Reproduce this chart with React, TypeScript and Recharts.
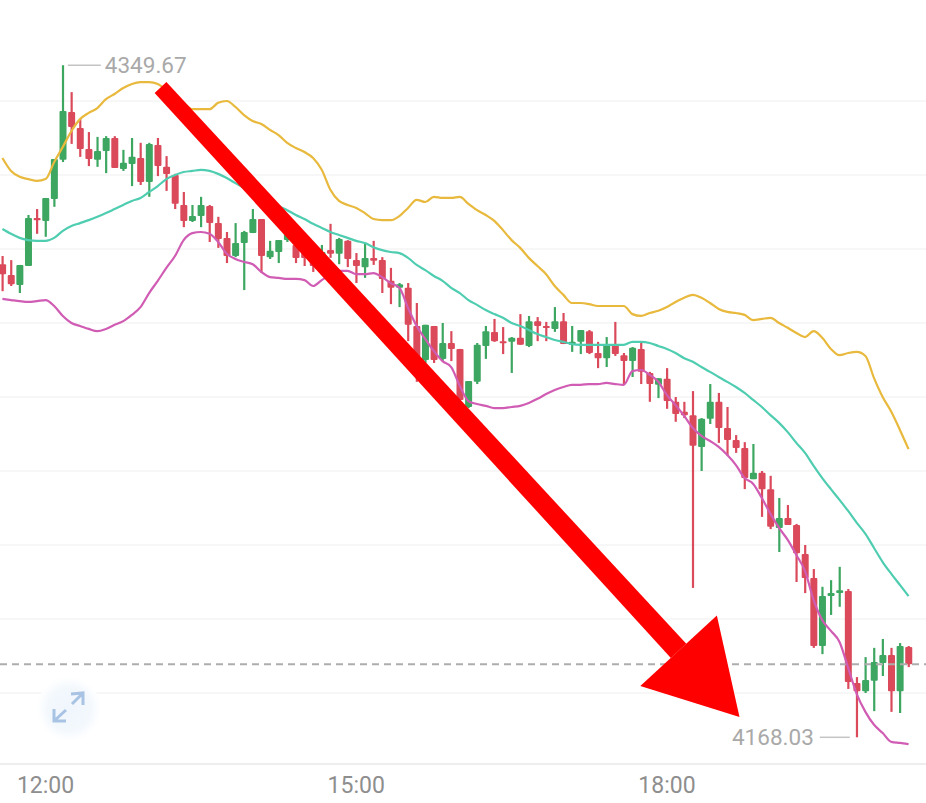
import { Bar, CartesianGrid, ComposedChart, Line, ReferenceDot, ReferenceLine, XAxis, YAxis } from "recharts";

const opens = [
  4295.9, 4293.0, 4290.3, 4295.4, 4308.4, 4307.6, 4313.5, 4324.1, 4337.0, 4332.7,
  4327.0, 4324.1, 4326.5, 4330.0, 4321.6, 4323.0, 4324.6, 4318.1, 4328.1, 4322.2,
  4320.0, 4311.9, 4307.6, 4308.9, 4311.6, 4307.0, 4303.0, 4298.1, 4301.6, 4304.3,
  4308.1, 4297.8, 4299.2, 4302.4, 4301.1, 4299.7, 4298.4, 4296.5, 4299.7, 4298.7,
  4302.2, 4297.0, 4295.1, 4297.6, 4297.0, 4291.4, 4289.5, 4289.5, 4279.2, 4270.0,
  4279.2, 4270.3, 4274.6, 4273.0, 4257.3, 4264.1, 4273.8, 4277.6, 4275.1, 4274.9,
  4276.0, 4273.8, 4280.5, 4279.2, 4278.4, 4280.5, 4274.1, 4274.9, 4277.8, 4271.9,
  4270.5, 4274.1, 4271.3, 4269.7, 4273.0, 4266.5, 4263.3, 4264.9, 4258.7, 4256.0,
  4255.1, 4246.5, 4254.1, 4258.7, 4251.6, 4248.4, 4246.2, 4237.8, 4239.5, 4235.1,
  4224.6, 4227.3, 4225.4, 4217.6, 4211.1, 4192.7, 4206.2, 4207.0, 4207.6, 4182.7,
  4180.5, 4183.3, 4188.1, 4190.3, 4180.5, 4192.4,
];
const closes = [
  4293.2, 4290.5, 4295.7, 4308.4, 4307.8, 4313.8, 4324.3, 4337.3, 4333.0, 4327.0,
  4324.3, 4326.5, 4330.0, 4321.9, 4323.3, 4324.9, 4318.1, 4328.4, 4322.4, 4320.3,
  4312.2, 4307.6, 4308.9, 4311.9, 4307.0, 4302.7, 4298.1, 4301.6, 4304.6, 4308.1,
  4298.1, 4299.5, 4302.4, 4304.3, 4297.6, 4297.6, 4295.4, 4299.2, 4298.7, 4302.7,
  4297.3, 4295.4, 4297.6, 4296.8, 4291.9, 4289.5, 4290.5, 4279.5, 4270.8, 4279.5,
  4270.0, 4274.6, 4273.0, 4259.2, 4264.3, 4274.1, 4277.8, 4275.1, 4274.9, 4276.0,
  4274.1, 4280.5, 4279.2, 4278.7, 4280.5, 4274.3, 4274.9, 4278.1, 4271.9, 4270.5,
  4274.1, 4271.6, 4269.7, 4273.3, 4266.8, 4263.5, 4265.1, 4258.9, 4255.4, 4255.1,
  4246.8, 4254.1, 4258.7, 4251.6, 4248.4, 4246.2, 4238.1, 4239.5, 4235.1, 4224.9,
  4227.3, 4225.4, 4217.8, 4211.1, 4192.7, 4206.2, 4207.0, 4207.8, 4183.0, 4180.5,
  4183.5, 4188.4, 4190.3, 4180.5, 4192.7, 4187.8,
];
const highs = [
  4298.1, 4297.0, 4295.7, 4309.2, 4310.8, 4313.8, 4324.3, 4349.67, 4342.4, 4335.1,
  4331.6, 4330.3, 4330.5, 4330.5, 4326.8, 4330.0, 4328.7, 4328.7, 4330.0, 4325.1,
  4320.3, 4315.4, 4311.9, 4314.1, 4311.9, 4308.7, 4304.6, 4307.0, 4304.9, 4310.8,
  4308.1, 4302.2, 4302.4, 4305.1, 4302.4, 4301.6, 4300.3, 4301.1, 4306.8, 4303.0,
  4302.4, 4298.9, 4301.4, 4302.2, 4297.8, 4294.9, 4290.8, 4290.8, 4285.4, 4279.5,
  4279.2, 4280.0, 4277.8, 4273.0, 4264.3, 4274.6, 4279.2, 4281.1, 4278.9, 4276.2,
  4282.4, 4281.9, 4281.6, 4280.3, 4284.3, 4282.7, 4279.2, 4278.1, 4278.1, 4274.9,
  4276.2, 4280.3, 4271.9, 4273.5, 4274.9, 4266.8, 4265.1, 4267.8, 4260.0, 4258.7,
  4261.6, 4254.3, 4263.5, 4261.1, 4257.3, 4249.7, 4247.8, 4247.3, 4240.0, 4238.7,
  4232.7, 4230.8, 4225.7, 4220.0, 4213.5, 4208.7, 4210.5, 4214.1, 4208.1, 4184.3,
  4189.7, 4192.2, 4194.6, 4192.2, 4193.5, 4192.7,
];
const lows = [
  4288.6, 4290.0, 4288.1, 4295.4, 4304.1, 4303.3, 4311.4, 4323.5, 4328.4, 4324.9,
  4322.4, 4322.2, 4320.5, 4321.9, 4321.1, 4317.0, 4317.3, 4314.1, 4319.7, 4315.7,
  4310.8, 4305.9, 4307.3, 4305.9, 4301.9, 4300.3, 4296.2, 4297.8, 4288.9, 4304.3,
  4293.5, 4297.3, 4296.2, 4301.9, 4296.2, 4295.4, 4293.8, 4294.9, 4297.6, 4295.9,
  4295.1, 4290.8, 4292.2, 4295.7, 4288.1, 4285.1, 4284.3, 4275.1, 4264.1, 4269.2,
  4269.2, 4269.7, 4269.7, 4258.4, 4257.0, 4263.5, 4270.3, 4274.9, 4271.6, 4266.5,
  4274.1, 4273.5, 4275.1, 4275.1, 4277.6, 4274.3, 4272.2, 4271.6, 4271.6, 4267.8,
  4268.1, 4271.1, 4263.5, 4265.4, 4263.5, 4258.7, 4259.7, 4256.8, 4253.3, 4254.3,
  4208.4, 4240.0, 4252.7, 4247.6, 4244.1, 4244.9, 4235.1, 4237.8, 4227.6, 4224.3,
  4218.1, 4225.4, 4210.0, 4207.0, 4192.2, 4190.5, 4201.1, 4203.3, 4181.1, 4168.03,
  4180.0, 4175.1, 4184.6, 4174.9, 4174.6, 4187.0,
];
const upperBand = [
  4324.6, 4321.1, 4319.5, 4318.9, 4318.4, 4318.9, 4323.5, 4327.6, 4331.9, 4335.1,
  4336.8, 4338.1, 4340.5, 4341.9, 4343.5, 4344.6, 4345.1, 4345.1, 4344.6, 4343.0,
  4341.1, 4339.5, 4337.8, 4337.8, 4337.8, 4339.5, 4340.0, 4338.4, 4336.2, 4334.6,
  4333.8, 4332.2, 4330.8, 4328.7, 4327.3, 4326.2, 4324.6, 4321.4, 4316.0, 4313.0,
  4311.9, 4311.1, 4309.7, 4308.1, 4307.8, 4307.8, 4308.9, 4311.1, 4313.3, 4312.7,
  4314.1, 4313.8, 4313.8, 4314.1, 4312.2, 4310.5, 4309.2, 4307.6, 4305.1, 4302.4,
  4300.3, 4297.6, 4295.4, 4293.2, 4290.0, 4287.6, 4285.4, 4285.4, 4285.1, 4284.6,
  4284.6, 4284.6, 4284.6, 4282.4, 4281.9, 4282.7, 4283.3, 4284.3, 4285.7, 4286.8,
  4287.6, 4286.8, 4285.4, 4283.8, 4283.0, 4282.7, 4282.2, 4280.8, 4281.1, 4281.4,
  4280.0, 4278.7, 4277.3, 4276.2, 4277.8, 4276.0, 4273.0, 4271.3, 4271.9, 4272.2,
  4271.1, 4265.1, 4260.0, 4256.0, 4251.1, 4245.9,
];
const middleBand = [
  4305.4, 4304.1, 4303.0, 4302.4, 4302.2, 4302.2, 4303.0, 4304.9, 4306.2, 4307.0,
  4307.8, 4308.7, 4309.7, 4310.8, 4311.9, 4313.0, 4313.8, 4315.4, 4317.0, 4318.9,
  4320.0, 4320.8, 4321.1, 4321.4, 4321.1, 4320.3, 4319.2, 4317.8, 4316.5, 4315.1,
  4314.1, 4313.0, 4311.6, 4310.5, 4309.2, 4308.1, 4306.8, 4305.7, 4304.6, 4303.8,
  4303.0, 4302.2, 4301.6, 4300.5, 4299.7, 4299.2, 4298.9, 4297.6, 4295.7, 4294.3,
  4292.7, 4291.4, 4289.5, 4288.1, 4286.2, 4284.9, 4283.5, 4282.4, 4281.4, 4280.0,
  4279.2, 4278.1, 4277.0, 4276.2, 4275.4, 4274.9, 4274.3, 4274.1, 4274.1, 4274.1,
  4274.1, 4274.1, 4274.1, 4274.9, 4274.9, 4274.6, 4273.8, 4273.0, 4271.9, 4270.5,
  4269.5, 4268.1, 4266.8, 4265.4, 4264.1, 4262.7, 4261.1, 4259.2, 4257.3, 4255.1,
  4253.0, 4250.5, 4247.6, 4244.9, 4241.4, 4238.1, 4235.1, 4232.2, 4229.2, 4226.0,
  4223.0, 4219.2, 4215.4, 4212.2, 4209.2, 4206.2,
];
const lowerBand = [
  4286.5, 4286.2, 4285.9, 4285.7, 4285.9, 4286.2, 4284.6, 4281.9, 4280.0, 4279.2,
  4278.4, 4277.8, 4278.4, 4279.5, 4280.5, 4282.2, 4284.3, 4288.1, 4291.4, 4294.9,
  4298.1, 4302.4, 4304.3, 4304.6, 4304.1, 4301.9, 4298.7, 4297.3, 4296.5, 4295.9,
  4293.8, 4292.4, 4292.2, 4291.9, 4291.9, 4291.6, 4290.0, 4291.6, 4293.0, 4294.1,
  4294.1, 4293.2, 4293.2, 4293.5, 4292.4, 4290.8, 4289.5, 4284.1, 4279.2, 4275.7,
  4272.4, 4269.7, 4268.1, 4263.0, 4258.9, 4258.1, 4257.6, 4257.0, 4257.0, 4257.3,
  4257.6, 4258.4, 4259.5, 4260.8, 4261.9, 4262.7, 4263.3, 4263.3, 4263.5, 4263.5,
  4263.8, 4263.5, 4263.3, 4267.0, 4267.3, 4266.0, 4264.1, 4260.5, 4257.8, 4254.9,
  4251.6, 4249.5, 4248.1, 4246.5, 4244.3, 4241.6, 4238.1, 4236.5, 4232.7, 4228.4,
  4224.6, 4221.4, 4217.3, 4213.0, 4205.1, 4199.7, 4196.8, 4193.8, 4186.8, 4179.7,
  4174.9, 4171.4, 4169.2, 4166.8, 4166.5, 4166.2,
];

const timeTicks = [5, 41, 77];
const timeLabels = ["12:00", "15:00", "18:00"];
const gridPrices = [4340, 4320, 4300, 4280, 4260, 4240, 4220, 4200, 4180];
const lastPrice = 4187.8;
const highPrice = 4349.67;
const highIndex = 7;
const lowPrice = 4168.03;
const lowIndex = 99;

const UP = "#3da661";
const DOWN = "#da4a5b";
const LABEL = "#a9a9a9";

const data = opens.map((open, i) => ({
  i,
  open,
  close: closes[i],
  high: highs[i],
  low: lows[i],
  upper: upperBand[i],
  middle: middleBand[i],
  lower: lowerBand[i],
}));

function Candle(props: any) {
  const { x, y, width, height, payload } = props;
  const perUnit = height / (payload.high - payload.low);
  const top = y + (payload.high - Math.max(payload.open, payload.close)) * perUnit;
  const bodyH = Math.max(Math.abs(payload.open - payload.close) * perUnit, 2);
  const color = payload.close >= payload.open ? UP : DOWN;
  const cx = x + width / 2;
  return (
    <g>
      <line x1={cx} x2={cx} y1={y} y2={y + height} stroke={color} strokeWidth={2.2} />
      <rect x={x} y={top} width={width} height={bodyH} fill={color} rx={1} />
    </g>
  );
}

function HighMark({ cx, cy }: any) {
  return (
    <g>
      <line x1={cx + 5} x2={cx + 38} y1={cy} y2={cy} stroke="#c4c4c4" strokeWidth={1.5} />
      <text x={cx + 42} y={cy + 8} fill={LABEL} fontSize={22.5} fontFamily="Roboto">
        {highPrice}
      </text>
    </g>
  );
}

function LowMark({ cx, cy }: any) {
  return (
    <g>
      <line x1={cx - 37} x2={cx - 7} y1={cy} y2={cy} stroke="#c4c4c4" strokeWidth={1.5} />
      <text x={cx - 43} y={cy + 8} fill={LABEL} fontSize={22.5} fontFamily="Roboto" textAnchor="end">
        {lowPrice}
      </text>
    </g>
  );
}

// big red annotation arrow: the shaft widens a little towards the head
function ArrowShape({ x1, y1, x2, y2 }: any) {
  const len = Math.hypot(x2 - x1, y2 - y1);
  const ux = (x2 - x1) / len;
  const uy = (y2 - y1) / len;
  const bx = x2 - ux * 90;
  const by = y2 - uy * 90;
  const hw = 52;
  const tail = 8;
  const neck = 10.5;
  return (
    <g fill="#ff0000">
      <polygon
        points={`${x1 - uy * tail},${y1 + ux * tail} ${x1 + uy * tail},${y1 - ux * tail} ${bx + uy * neck},${by - ux * neck} ${bx - uy * neck},${by + ux * neck}`}
      />
      <polygon points={`${x2},${y2} ${bx - uy * hw},${by + ux * hw} ${bx + uy * hw},${by - ux * hw}`} />
    </g>
  );
}

function ExpandIcon() {
  return (
    <svg width={70} height={70} style={{ position: "absolute", left: 34, top: 674 }}>
      <defs>
        <radialGradient id="expandGlow">
          <stop offset="0%" stopColor="#f0f6fd" />
          <stop offset="65%" stopColor="#f3f8fd" />
          <stop offset="100%" stopColor="#ffffff" />
        </radialGradient>
      </defs>
      <circle cx={35} cy={35} r={32} fill="url(#expandGlow)" />
      <g fill="none" stroke="#a8c3e4" strokeWidth={3}>
        <path d="M37 20 L49 19 L49 31 M49 19 L38 30" />
        <path d="M20 35 L20 47 L32 47 M20 47 L32 36" />
      </g>
    </svg>
  );
}

export default function App() {
  return (
    <div style={{ position: "absolute", left: 0, top: 0, width: 926, height: 803, background: "#fff" }}>
      <ComposedChart width={926} height={803} data={data} margin={{ top: 27, right: 0, bottom: 0, left: 0 }}>
        <CartesianGrid vertical={false} stroke="#f5f5f5" strokeWidth={1.5} horizontalValues={gridPrices} />
        <XAxis
          dataKey="i"
          type="number"
          domain={[-0.28, 107.02]}
          ticks={timeTicks}
          interval={0}
          height={36}
          axisLine={false}
          tickLine={false}
          tickFormatter={(v: number) => timeLabels[timeTicks.indexOf(v)]}
          tick={{ fill: "#8e8e8e", fontSize: 23, fontFamily: "Roboto" }}
          tickMargin={4}
        />
        <YAxis hide type="number" domain={[4160, 4360]} />
        <ReferenceLine y={4160.8} stroke="#eeeeee" strokeWidth={2} />
        <ReferenceLine y={lastPrice} stroke="#adadad" strokeWidth={2} strokeDasharray="7 5" />
        <Bar dataKey={(d: any) => [d.low, d.high]} barSize={7} shape={Candle} isAnimationActive={false} />
        <Line dataKey="upper" stroke="#e8b93c" strokeWidth={2.2} dot={false} type="monotone" isAnimationActive={false} />
        <Line dataKey="middle" stroke="#4fcdb0" strokeWidth={2.2} dot={false} type="monotone" isAnimationActive={false} />
        <Line dataKey="lower" stroke="#d05cb4" strokeWidth={2.2} dot={false} type="monotone" isAnimationActive={false} />
        <ReferenceDot x={highIndex} y={highPrice} shape={HighMark} />
        <ReferenceDot x={lowIndex} y={lowPrice} shape={LowMark} />
        <ReferenceLine
          segment={[
            { x: 18.32, y: 4343.65 },
            { x: 85.41, y: 4173.5 },
          ]}
          shape={ArrowShape}
        />
      </ComposedChart>
      <ExpandIcon />
    </div>
  );
}
